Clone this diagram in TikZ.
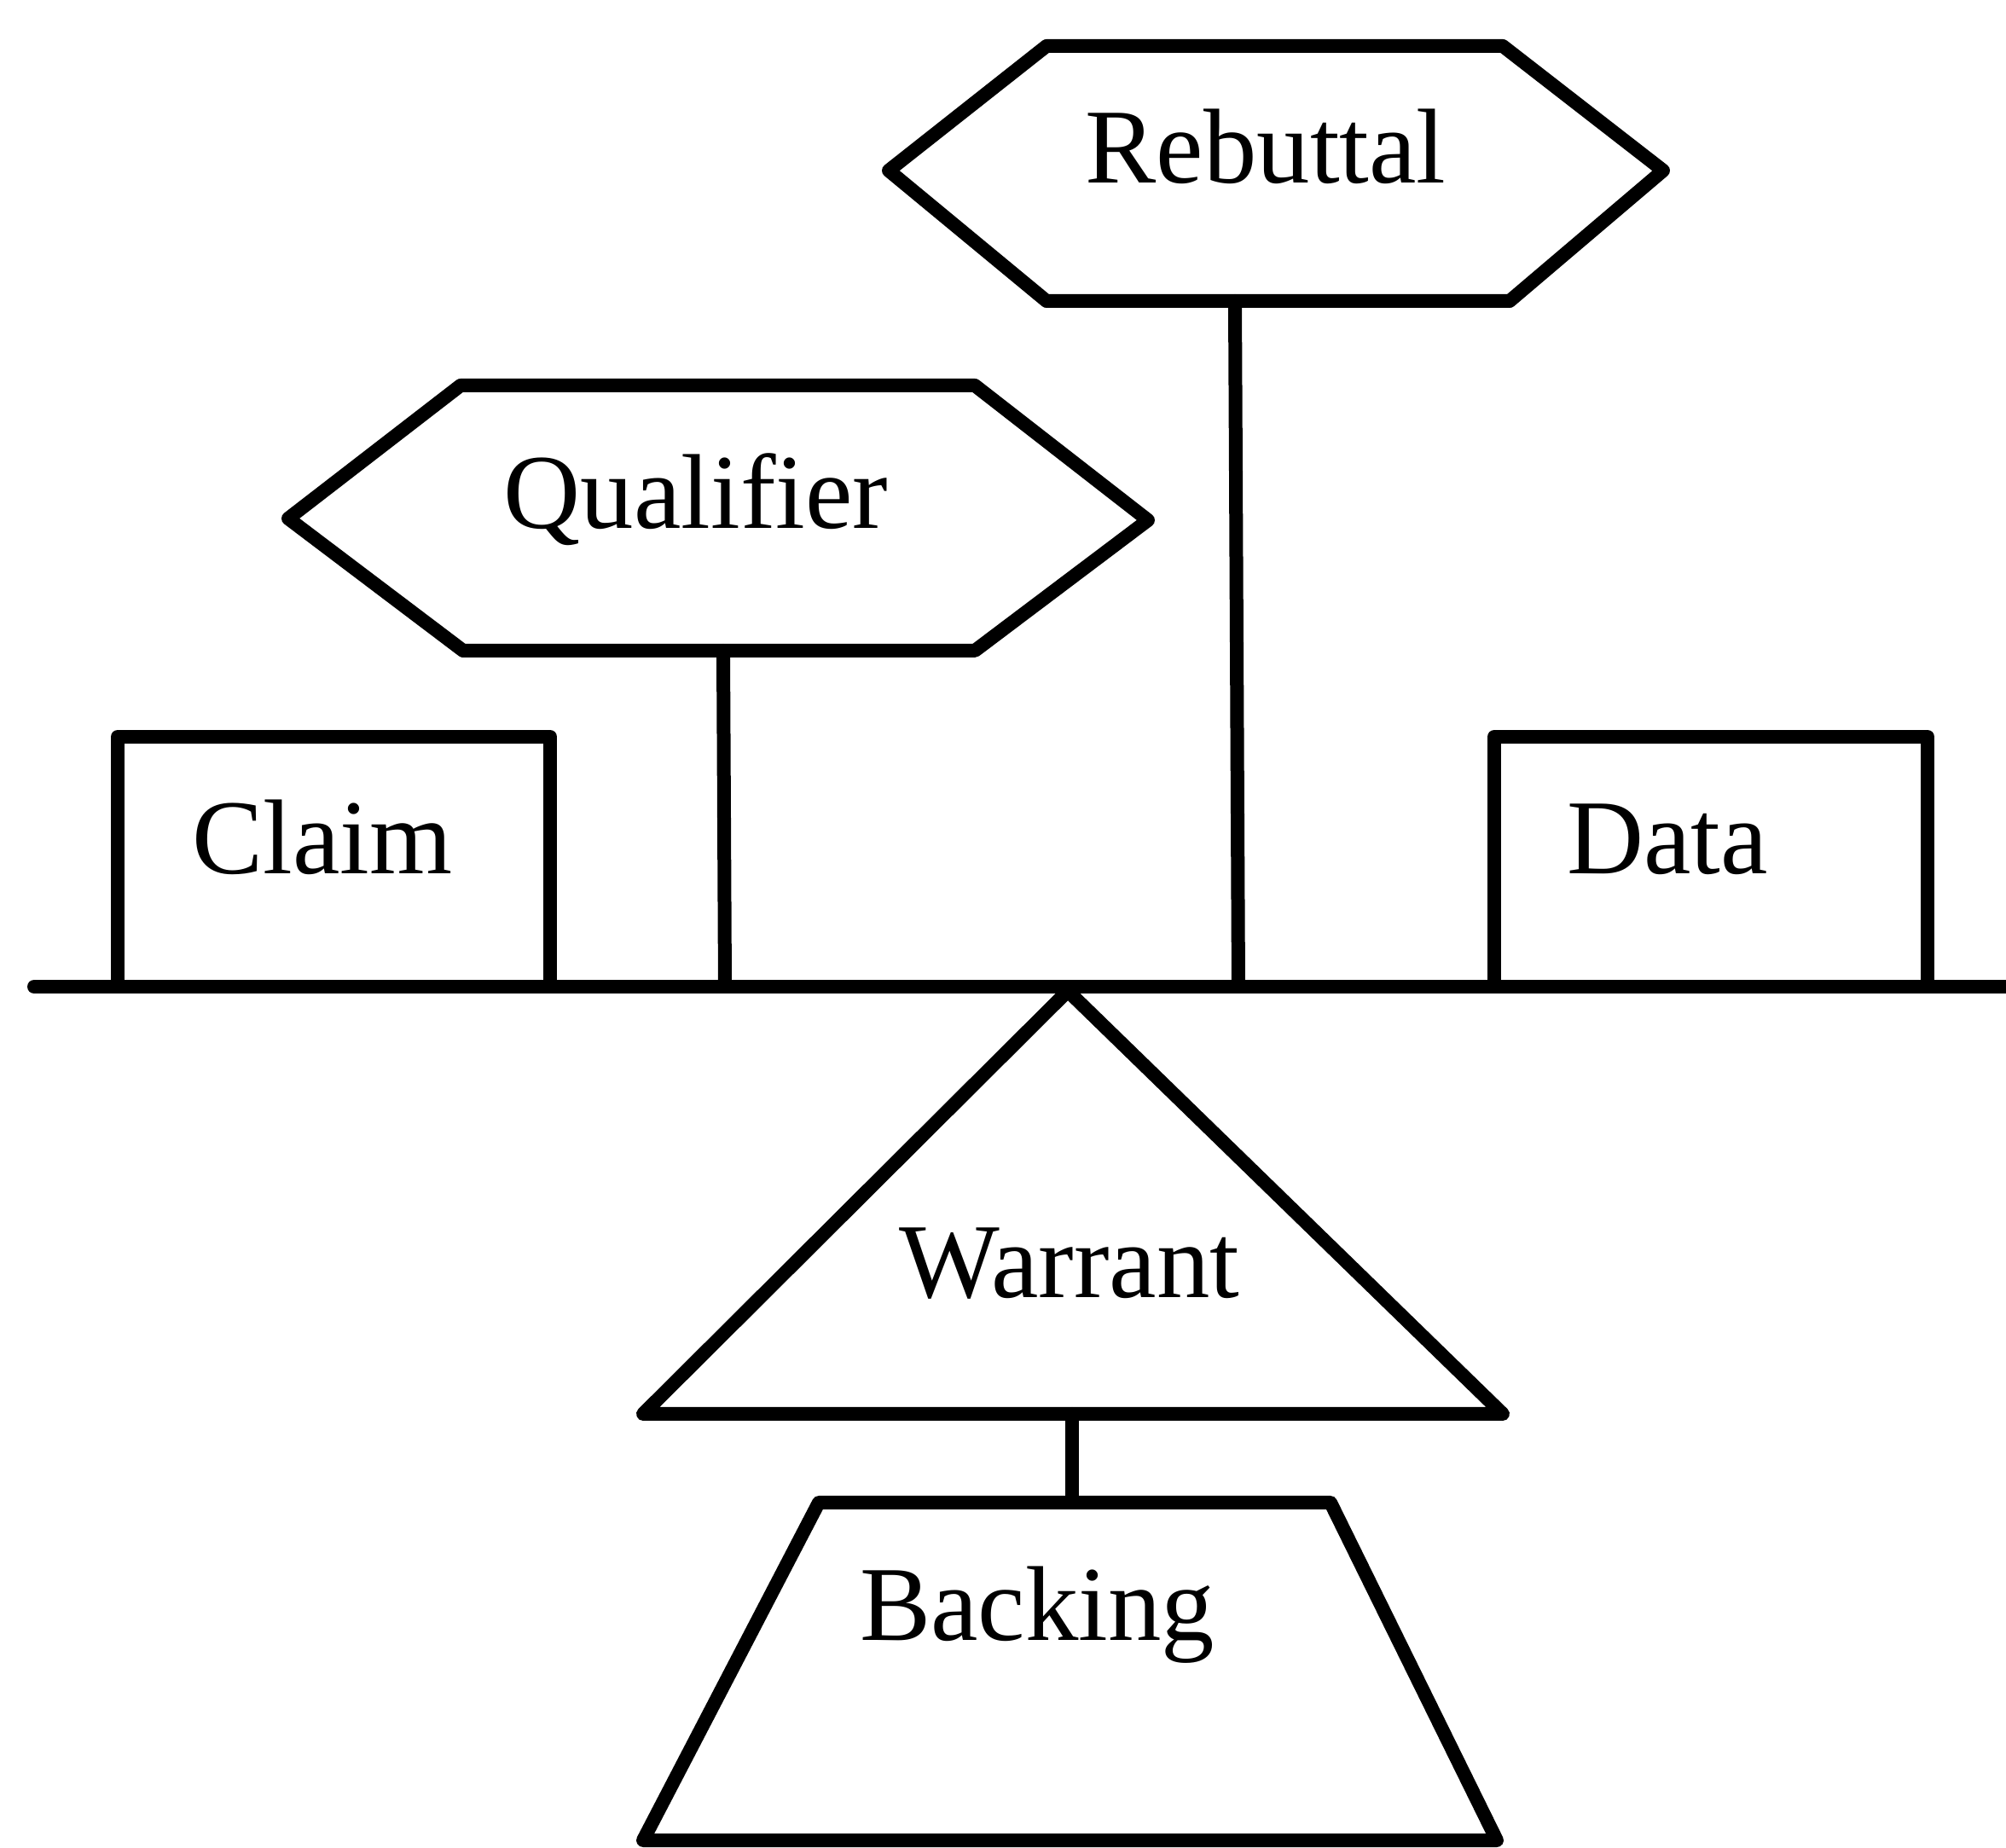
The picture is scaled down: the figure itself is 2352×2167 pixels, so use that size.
\documentclass[tikz,border=0pt]{standalone}
\usepackage{fontspec}
\setmainfont{Liberation Serif}
\begin{document}
\begin{tikzpicture}[x=0.1mm,y=-0.1mm,
  shapeline/.style={line width=1.6mm,line join=round,line cap=round},
  lbl/.style={anchor=base,inner sep=0pt,font=\fontsize{35.5pt}{40pt}\selectfont}]
\useasboundingbox[fill=white] (0,0) rectangle (2352,2167);
% baseline
\coordinate (bl) at (40,1157);
\coordinate (br) at (2360,1157);
\draw[shapeline] (bl) -- (br);
% Claim box
\draw[shapeline] (138,1157) -- (138,864) -- (645,864) -- (645,1157);
\node[lbl] (claim) at (378,1025) {Claim};
% Data box
\draw[shapeline] (1752,1157) -- (1752,864) -- (2260,864) -- (2260,1157);
\node[lbl] (data) at (1955,1025) {Data};
% Qualifier hexagon
\draw[shapeline] (338,608) -- (540,452) -- (1143,452) -- (1346,610) -- (1143,763) -- (543,763) -- cycle;
\node[lbl] (qual) at (816,620) {Qualifier};
\coordinate (qtop) at (848,763);
\coordinate (qbot) at (850,1157);
\draw[shapeline] (qtop) -- (qbot);
% Rebuttal hexagon
\draw[shapeline] (1042,200) -- (1227,54) -- (1762,54) -- (1950,200) -- (1770,353) -- (1227,353) -- cycle;
\node[lbl] (reb) at (1484,215) {Rebuttal};
\coordinate (rtop) at (1448,353);
\coordinate (rbot) at (1452,1157);
\draw[shapeline] (rtop) -- (rbot);
% Warrant triangle
\draw[shapeline] (1252,1162) -- (1762,1658) -- (754,1658) -- cycle;
\node[lbl] (warr) at (1254,1522) {Warrant};
\coordinate (wbot) at (1257,1658);
\coordinate (btop) at (1257,1762);
\draw[shapeline] (wbot) -- (btop);
% Backing trapezoid
\draw[shapeline] (960,1762) -- (1560,1762) -- (1755,2158) -- (754,2158) -- cycle;
\node[lbl] (back) at (1216,1924) {Backing};
\end{tikzpicture}
\end{document}
